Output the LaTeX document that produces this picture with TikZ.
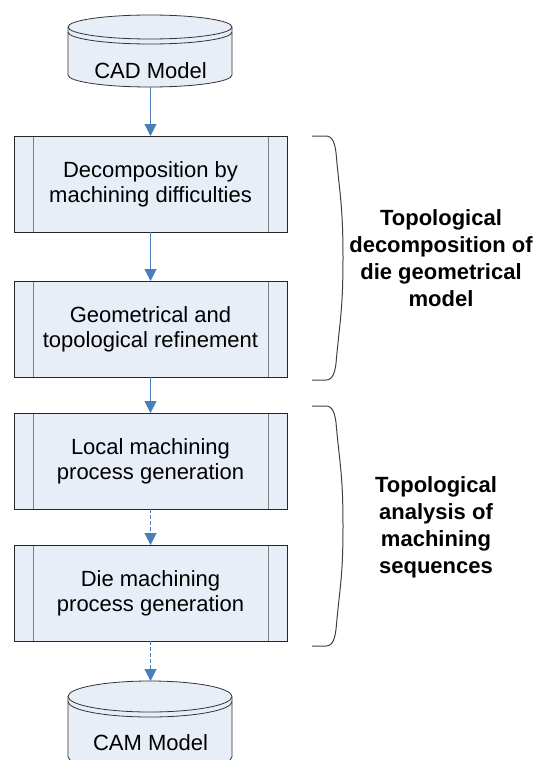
\documentclass[tikz,border=0pt]{standalone}
\usepackage{fontspec}
\setmainfont{Liberation Sans}
\usetikzlibrary{positioning,arrows.meta}
\definecolor{paleblue}{HTML}{E8EEF7}
\definecolor{flowblue}{HTML}{4A7EBB}
\def\Drum#1#2#3{
    \fill[paleblue] (68,#1) -- (68,#1+#3) arc[start angle=180,end angle=360,x radius=61.5pt,y radius=#2]
        -- (232,#1) arc[start angle=0,end angle=180,x radius=61.5pt,y radius=#2] -- cycle;
    \draw[drumline] (150,#1) ellipse[x radius=61.5pt,y radius=#2];
    \draw[drumline] (68,#1) -- (68,#1+#3) arc[start angle=180,end angle=360,x radius=61.5pt,y radius=#2] -- (232,#1);
    \draw[drumline] (68,#1+5) arc[start angle=180,end angle=360,x radius=61.5pt,y radius=#2];
}
\def\Brace#1#2{
    \draw[brace] (312,#1) -- (326,#1) .. controls (333,#1) and (335.5,#1+8) .. (336.5,#1+22)
        .. controls (340,#1+60) and (343,{(#1+#2)/2-50}) .. (343,{(#1+#2)/2})
        .. controls (343,{(#1+#2)/2+50}) and (340,#2-60) .. (336.5,#2-22)
        .. controls (335.5,#2-8) and (333,#2) .. (326,#2) -- (312,#2);
}
\begin{document}
\begin{tikzpicture}[x=0.75pt,y=-0.75pt,
    drumline/.style={draw=black!80, line width=0.6pt},
    label/.style={anchor=base, font=\fontsize{16.5}{18.75}\selectfont},
    proc/.style={draw=black!85, line width=0.75pt, fill=paleblue, minimum width=204.75pt, minimum height=72pt,
        inner sep=0pt, outer sep=0pt, align=center, font=\fontsize{16.5}{18.75}\selectfont,
        path picture={\draw[gray, line width=0.75pt]
            ([xshift=14.25pt]path picture bounding box.north west) -- ([xshift=14.25pt]path picture bounding box.south west)
            ([xshift=-14.25pt]path picture bounding box.north east) -- ([xshift=-14.25pt]path picture bounding box.south east);}},
    flow/.style={draw=flowblue, line width=0.75pt, -{Triangle[width=9pt,length=9pt]}},
    brace/.style={draw=black!75, line width=0.75pt},
    note/.style={align=center, font=\fontsize{16.5}{20.25}\selectfont\bfseries}]
    \useasboundingbox (0,0) rectangle (543,760);
    \Drum{27}{9pt}{48}
    \Drum{696.5}{11.625pt}{60}
    \node[label] (cad) at (150.5,78) {CAD Model};
    \node[label] (cam) at (150.5,750) {CAM Model};
    \coordinate (cadfoot) at (150.5,87);
    \coordinate (camtop) at (150.5,681);
    \node[proc] (split) at (150.5,184) {Decomposition by\\machining difficulties};
    \node[proc, below=36.75pt of split] (refine) {Geometrical and\\topological refinement};
    \node[proc, below=27pt of refine] (localgen) {Local machining\\process generation};
    \node[proc, below=27pt of localgen] (diegen) {Die machining\\process generation};
    \draw[flow] (cadfoot) -- (split);
    \draw[flow] (split) -- (refine);
    \draw[flow] (refine) -- (localgen);
    \draw[flow, dash pattern=on 3pt off 1.5pt] (localgen) -- (diegen);
    \draw[flow, dash pattern=on 3pt off 1.5pt] (diegen) -- (camtop);
    \Brace{136}{380}
    \Brace{406}{646}
    \node[note] (decomp) at (441,258) {Topological\\decomposition of\\die geometrical\\model};
    \node[note] (analysis) at (436,527) {Topological\\analysis of\\machining\\sequences};
\end{tikzpicture}
\end{document}
